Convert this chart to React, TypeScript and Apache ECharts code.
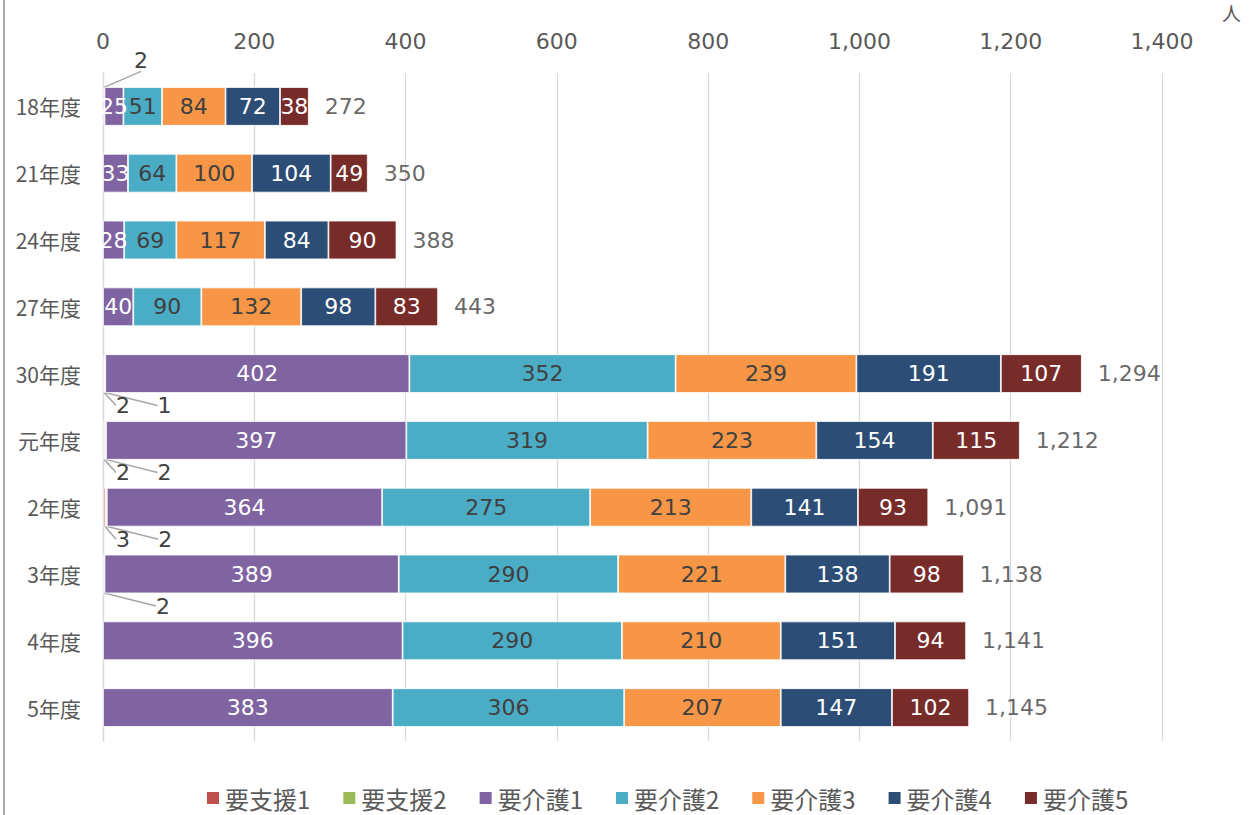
import React, { useEffect, useRef } from "react";
import * as echarts from "echarts";

const categories = ["18年度", "21年度", "24年度", "27年度", "30年度", "元年度", "2年度", "3年度", "4年度", "5年度"];
const seriesNames = ["要支援1", "要支援2", "要介護1", "要介護2", "要介護3", "要介護4", "要介護5"];
const shien1 = [2, null, null, null, 2, 2, 3, null, null, null];
const shien2 = [null, null, null, null, 1, 2, 2, 2, null, null];
const kaigo1 = [25, 33, 28, 40, 402, 397, 364, 389, 396, 383];
const kaigo2 = [51, 64, 69, 90, 352, 319, 275, 290, 290, 306];
const kaigo3 = [84, 100, 117, 132, 239, 223, 213, 221, 210, 207];
const kaigo4 = [72, 104, 84, 98, 191, 154, 141, 138, 151, 147];
const kaigo5 = [38, 49, 90, 83, 107, 115, 93, 98, 94, 102];
const totals = [272, 350, 388, 443, 1294, 1212, 1091, 1138, 1141, 1145];
const xTicks = [0, 200, 400, 600, 800, 1000, 1200, 1400];

const colors = ["#C0504D", "#9BBB59", "#8064A2", "#4BACC6", "#F79646", "#2C4D75", "#772C2A"];
const labelColors = ["#404040", "#404040", "#ffffff", "#404040", "#404040", "#ffffff", "#ffffff"];
const FONT = "'Noto Sans CJK JP', 'Noto Sans', sans-serif";
const NUMFONT = "'DejaVu Sans', 'Noto Sans CJK JP', sans-serif";

const fmt = (v: number) => v.toLocaleString("en-US");

export default function App() {
  const ref = useRef<HTMLDivElement>(null);
  useEffect(() => {
    if (!ref.current) return;
    const chart = echarts.init(ref.current, null, { renderer: "svg" });
    const values = [shien1, shien2, kaigo1, kaigo2, kaigo3, kaigo4, kaigo5];

    const leaderLayout = (which: number) => (p: any) => {
      const r = p.rect;
      const lr = p.labelRect;
      if (!r || !lr) return {};
      const above = which === 0 && p.dataIndex === 0;
      const offX = above ? 38 : which === 0 ? 20 : 60;
      const offY = above ? -46 : 32;
      const cx = r.x + offX;
      const cy = r.y + r.height / 2 + offY;
      const dx = cx - (lr.x + lr.width / 2);
      const dy = cy - (lr.y + lr.height / 2);
      const lx = cx - lr.width / 2;
      const startY = above ? r.y + r.height : r.y;
      return {
        dx,
        dy,
        labelLinePoints: [
          [r.x, startY],
          [lx - 12, cy],
          [lx - 3, cy],
        ],
      };
    };

    const barSeries = seriesNames.map((name, i) => {
      const s: any = {
        name,
        type: "bar",
        stack: "total",
        barCategoryGap: "42%",
        data: values[i],
        itemStyle: { color: colors[i], borderColor: "#ffffff", borderWidth: 0.8 },
        label: {
          show: true,
          position: "inside",
          color: labelColors[i],
          fontSize: 22,
          fontFamily: NUMFONT,
          formatter: (p: any) => (p.value == null ? "" : fmt(p.value)),
        },
      };
      if (i < 2) {
        s.label.color = "#404040";
        s.labelLine = { show: true, lineStyle: { color: "#a6a6a6", width: 1.5 } };
        s.labelLayout = leaderLayout(i);
      }
      return s;
    });

    chart.setOption({
      animation: false,
      textStyle: { fontFamily: FONT },
      graphic: [
        { type: "line", shape: { x1: 4, y1: 0, x2: 4, y2: 815 }, style: { stroke: "#8c8c8c", lineWidth: 1.5 } },
        { type: "text", left: 1222, top: 3, style: { text: "人", fontSize: 19, fill: "#595959", fontFamily: FONT } },
      ],
      legend: {
        data: seriesNames,
        left: 200,
        bottom: 0,
        icon: "rect",
        itemWidth: 14,
        itemHeight: 14,
        itemGap: 31,
        textStyle: { fontSize: 24, color: "#595959", fontFamily: FONT },
      },
      grid: { left: 103, right: 89, top: 73, bottom: 74 },
      xAxis: {
        type: "value",
        position: "top",
        min: xTicks[0],
        max: xTicks[xTicks.length - 1],
        interval: xTicks[1] - xTicks[0],
        axisLine: { show: false },
        axisTick: { show: false },
        splitLine: { lineStyle: { color: "#d9d9d9", width: 1.3 } },
        axisLabel: { fontSize: 22, color: "#595959", margin: 21, formatter: (v: number) => fmt(v), fontFamily: NUMFONT },
      },
      yAxis: {
        type: "category",
        inverse: true,
        data: categories,
        axisLine: { lineStyle: { color: "#d9d9d9", width: 1.3 } },
        axisTick: { show: false },
        axisLabel: { fontSize: 21, color: "#595959", margin: 22, fontFamily: FONT },
      },
      series: [
        ...barSeries,
        {
          name: "合計",
          type: "scatter",
          symbolSize: 0,
          data: totals.map((t, i) => [t, categories[i]]),
          label: {
            show: true,
            position: "right",
            distance: 16,
            color: "#404040",
            fontSize: 22,
            fontFamily: NUMFONT,
            formatter: (p: any) => fmt(p.value[0]),
          },
          tooltip: { show: false },
        },
      ],
    });
    return () => chart.dispose();
  }, []);
  return <div ref={ref} style={{ position: "fixed", left: 0, top: 0, width: 1251, height: 815, background: "#fff" }} />;
}
